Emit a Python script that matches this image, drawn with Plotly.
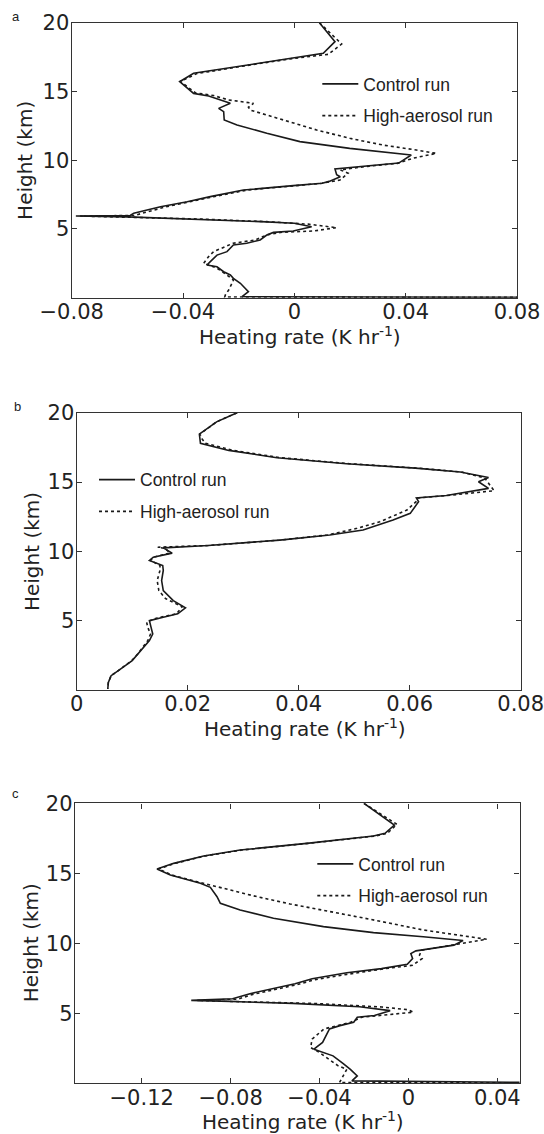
import plotly.graph_objects as go

# ---------------- data ----------------
# Panel a
a_ctrl_height = [20.0, 18.62, 17.77, 17.41, 16.97, 16.56, 16.32, 15.71, 14.86, 14.67, 14.14, 13.77,
                 13.53, 12.92, 12.56, 11.96, 11.35, 10.86, 10.62, 10.38, 9.79, 9.55, 9.36, 8.94, 8.80,
                 8.46, 8.32, 8.15, 7.83, 7.35, 6.98, 6.62, 6.14, 5.98, 5.94, 5.88, 5.72, 5.53, 5.41,
                 5.16, 4.85, 4.75, 4.56, 4.20, 3.96, 3.83, 3.35, 3.10, 2.62, 2.38, 2.25, 1.89, 1.65,
                 1.41, 1.05, 0.80, 0.44, 0.07, 0.02]
a_ctrl_rate = [0.009, 0.0146, 0.0104, -0.0015, -0.0159, -0.0278, -0.0362, -0.0412, -0.0362, -0.0308,
               -0.0230, -0.0272, -0.0254, -0.0252, -0.0206, -0.0099, 0.0020, 0.0199, 0.0319, 0.0420,
               0.0375, 0.0250, 0.0146, 0.0152, 0.0165, 0.0125, 0.0100, -0.0004, -0.0183, -0.0302,
               -0.0385, -0.0481, -0.0577, -0.0590, -0.0785, -0.0600, -0.0360, -0.0120, 0.0, 0.0062,
               -0.0004, -0.0075, -0.0099, -0.0123, -0.0171, -0.0219, -0.0242, -0.0278, -0.0302,
               -0.0314, -0.0278, -0.0254, -0.0230, -0.0219, -0.0194, -0.0183, -0.0165, -0.0188, 0.09]
a_aero_height = [20.0, 18.45, 17.70, 17.41, 16.97, 16.56, 16.30, 15.73, 14.90, 14.70, 14.38, 14.14,
                 13.85, 13.65, 12.92, 12.20, 11.59, 11.10, 10.74, 10.50, 10.14, 9.77, 9.55, 9.30, 9.05,
                 8.56, 8.32, 8.15, 7.83, 7.35, 7.00, 6.62, 6.12, 5.98, 5.94, 5.86, 5.72, 5.53, 5.35,
                 5.09, 4.85, 4.75, 4.56, 4.20, 3.96, 3.35, 2.99, 2.50, 2.38, 2.15, 1.65, 1.29, 1.05,
                 0.56, 0.20, 0.05, 0.02]
a_aero_rate = [0.009, 0.0170, 0.0122, 0.0000, -0.0145, -0.0265, -0.0350, -0.0410, -0.0355, -0.0290,
               -0.0236, -0.0147, -0.0165, -0.0159, -0.0039, 0.0080, 0.0199, 0.0319, 0.0438, 0.0510,
               0.0426, 0.0370, 0.0260, 0.0165, 0.0193, 0.0164, 0.0100, 0.0010, -0.0170, -0.0290,
               -0.0368, -0.0460, -0.0550, -0.0575, -0.0770, -0.0580, -0.0340, -0.0100, 0.0050, 0.0152,
               0.0068, -0.0050, -0.0100, -0.0140, -0.0220, -0.0290, -0.0308, -0.0326, -0.0310,
               -0.0278, -0.0242, -0.0219, -0.0224, -0.0236, -0.0248, -0.0250, 0.09]

# Panel b
b_ctrl_height = [20.0, 19.34, 18.46, 17.79, 17.28, 16.75, 16.32, 16.00, 15.72, 15.33, 15.02, 14.54,
                 14.03, 13.85, 13.58, 12.74, 12.26, 11.54, 11.18, 10.81, 10.42, 10.25, 9.87, 9.58,
                 9.34, 8.98, 8.62, 7.89, 7.17, 6.45, 5.92, 5.49, 5.25, 5.00, 4.52, 4.04, 3.56, 2.60,
                 2.12, 1.40, 1.03, 0.55, 0.07]
b_ctrl_rate = [0.0289, 0.0252, 0.0221, 0.0223, 0.0274, 0.0361, 0.0486, 0.0610, 0.0691, 0.0742, 0.0724,
               0.0742, 0.0666, 0.0612, 0.0616, 0.0601, 0.0570, 0.0516, 0.0456, 0.0366, 0.0237, 0.0156,
               0.0172, 0.0138, 0.0131, 0.0155, 0.0156, 0.0153, 0.0156, 0.0174, 0.0196, 0.0182, 0.0156,
               0.0131, 0.0134, 0.0137, 0.0131, 0.0110, 0.0100, 0.0075, 0.0062, 0.0057, 0.0056]
b_aero_height = [20.0, 19.34, 18.46, 18.10, 17.79, 17.28, 16.75, 16.32, 16.00, 15.72, 15.30, 14.80,
                 14.37, 14.03, 13.85, 13.60, 12.98, 12.13, 11.66, 11.18, 10.81, 10.42, 10.30, 10.20,
                 9.87, 9.58, 9.34, 8.98, 8.62, 7.89, 7.17, 6.60, 6.00, 5.50, 5.20, 4.90, 4.52, 4.04,
                 3.56, 2.60, 2.12, 1.40, 1.03, 0.55, 0.07]
b_aero_rate = [0.0289, 0.0252, 0.0222, 0.0226, 0.0232, 0.0282, 0.0368, 0.0492, 0.0615, 0.0694, 0.0735,
               0.0745, 0.0752, 0.0668, 0.0615, 0.0612, 0.0595, 0.0546, 0.0505, 0.0452, 0.0366, 0.0237,
               0.0146, 0.0160, 0.0168, 0.0138, 0.0133, 0.0150, 0.0150, 0.0145, 0.0148, 0.0160, 0.0190,
               0.0180, 0.0145, 0.0126, 0.0128, 0.0133, 0.0128, 0.0110, 0.0099, 0.0075, 0.0062, 0.0057,
               0.0056]

# Panel c
c_ctrl_height = [20.0, 18.45, 17.86, 17.66, 17.14, 16.66, 16.24, 15.71, 15.31, 14.88, 14.29, 14.00,
                 13.33, 12.86, 12.38, 11.79, 11.19, 10.76, 10.47, 10.20, 9.87, 9.46, 9.27, 8.91, 8.50,
                 8.19, 7.90, 7.47, 7.11, 6.75, 6.40, 6.04, 5.92, 5.84, 5.71, 5.47, 5.19, 4.84, 4.72,
                 4.36, 4.12, 3.88, 3.40, 2.92, 2.44, 2.20, 1.96, 1.41, 1.00, 0.53, 0.17, 0.02]
c_ctrl_rate = [-0.0200, -0.0063, -0.0105, -0.0157, -0.0457, -0.0757, -0.0921, -0.1056, -0.1131, -0.1071,
               -0.0936, -0.0891, -0.0861, -0.0846, -0.0757, -0.0607, -0.0382, -0.0157, 0.0067, 0.0246,
               0.0205, 0.0034, 0.0011, 0.0019, -0.0005, -0.0121, -0.0277, -0.0433, -0.0510, -0.0619,
               -0.0713, -0.0791, -0.0977, -0.0800, -0.0520, -0.0220, -0.0082, -0.0153, -0.0230, -0.0246,
               -0.0308, -0.0355, -0.0370, -0.0386, -0.0425, -0.0386, -0.0339, -0.0293, -0.0261, -0.0230,
               -0.0254, 0.09]
c_aero_height = [20.0, 18.49, 17.86, 17.66, 17.14, 16.66, 16.24, 15.71, 15.31, 14.88, 14.40, 13.93,
                 13.33, 12.81, 12.38, 11.90, 11.43, 10.95, 10.60, 10.29, 9.94, 9.50, 9.15, 8.91, 8.43,
                 8.19, 7.78, 7.40, 7.05, 6.70, 6.35, 6.00, 5.92, 5.84, 5.70, 5.45, 5.25, 5.08, 4.84,
                 4.72, 4.36, 4.12, 3.88, 3.16, 2.56, 2.20, 1.72, 1.25, 1.00, 0.53, 0.17, 0.05, 0.02]
c_aero_rate = [-0.0200, -0.0051, -0.0095, -0.0150, -0.0450, -0.0750, -0.0915, -0.1050, -0.1125, -0.1065,
               -0.0951, -0.0831, -0.0681, -0.0532, -0.0382, -0.0232, -0.0082, 0.0067, 0.0218, 0.0352,
               0.0221, 0.0060, 0.0050, 0.0062, 0.0019, -0.0105, -0.0277, -0.0420, -0.0500, -0.0600,
               -0.0700, -0.0770, -0.0950, -0.0780, -0.0420, -0.0120, 0.0000, 0.0022, -0.0121, -0.0210,
               -0.0260, -0.0320, -0.0380, -0.0433, -0.0440, -0.0400, -0.0355, -0.0316, -0.0277, -0.0293,
               -0.0308, -0.0310, 0.09]

series_names = ["Control run", "High-aerosol run"]
panel_labels = ["a", "b", "c"]
x_title = "Heating rate (K hr<sup>-1</sup>)"
y_title = "Height (km)"

a_xticks = [-0.08, -0.04, 0, 0.04, 0.08]
a_xticktext = ["\u22120.08", "\u22120.04", "0", "0.04", "0.08"]
b_xticks = [0, 0.02, 0.04, 0.06, 0.08]
b_xticktext = ["0", "0.02", "0.04", "0.06", "0.08"]
c_xticks = [-0.12, -0.08, -0.04, 0, 0.04]
c_xticktext = ["\u22120.12", "\u22120.08", "\u22120.04", "0", "0.04"]
y_ticks = [5, 10, 15, 20]
y_ticktext = ["5", "10", "15", "20"]

# ---------------- layout ----------------
W, H = 544, 1134
def fx(p):
    return p / W
def fy(p):
    return 1 - p / H

panels = [
    dict(left=71.7, right=517.0, top=22.7, bottom=297.7, xr=[-0.08, 0.08],
         xt=a_xticks, xtt=a_xticktext, leg=(323.3, 85.0), lab=(15.6, 16.7), ytoff=47,
         data=[(a_ctrl_rate, a_ctrl_height), (a_aero_rate, a_aero_height)]),
    dict(left=76.7, right=520.7, top=412.7, bottom=690.0, xr=[0, 0.08],
         xt=b_xticks, xtt=b_xticktext, leg=(100.0, 480.7), lab=(17.0, 406.7), ytoff=44,
         data=[(b_ctrl_rate, b_ctrl_height), (b_aero_rate, b_aero_height)]),
    dict(left=75.0, right=519.5, top=803.3, bottom=1083.3, xr=[-0.15, 0.05],
         xt=c_xticks, xtt=c_xticktext, leg=(318.3, 865.0), lab=(15.6, 793.0), ytoff=44,
         data=[(c_ctrl_rate, c_ctrl_height), (c_aero_rate, c_aero_height)]),
]

INK = "#222222"
AX = "#333333"
TICKFONT = dict(family="DejaVu Sans", size=21, color=INK)
TITLEFONT = dict(family="DejaVu Sans", size=20, color=INK)
LEGFONT = dict(family="Liberation Sans", size=17.5, color=INK)

fig = go.Figure()
annotations = []
layout = dict(width=W, height=H, margin=dict(l=0, r=0, t=0, b=0, pad=0, autoexpand=False),
              paper_bgcolor="white", plot_bgcolor="white", showlegend=True)

for i, p in enumerate(panels):
    n = "" if i == 0 else str(i + 1)
    xa, ya = "x" + n, "y" + n
    legname = "legend" + n
    dashes = ["solid", "dot"]
    for j, (xs, ys) in enumerate(p["data"]):
        fig.add_trace(go.Scatter(
            x=xs, y=ys, mode="lines", name=series_names[j],
            line=dict(color="#1a1a1a", width=1.6, dash=dashes[j]),
            xaxis=xa, yaxis=ya, legend=legname, legendgroup=f"p{i}s{j}",
            hoverinfo="skip"))
    common = dict(showline=True, linecolor=AX, linewidth=1.4, mirror="ticks",
                  ticks="inside", ticklen=5, tickwidth=1.2, tickcolor=AX,
                  showgrid=False, zeroline=False, tickfont=TICKFONT,
                  automargin=False, ticklabeloverflow="allow")
    layout["xaxis" + n] = dict(common, domain=[fx(p["left"]), fx(p["right"])],
                               anchor=ya, range=p["xr"], tickvals=p["xt"],
                               ticktext=p["xtt"], ticklabelstandoff=-5)
    layout["yaxis" + n] = dict(common, domain=[fy(p["bottom"]), fy(p["top"])],
                               anchor=xa, range=[0, 20], tickvals=y_ticks,
                               ticktext=y_ticktext, ticklabelstandoff=-3)
    layout[legname] = dict(x=fx(p["leg"][0] - 6), y=fy(p["leg"][1] - 19),
                           xanchor="left", yanchor="top",
                           bgcolor="rgba(0,0,0,0)", font=LEGFONT,
                           tracegroupgap=6, itemwidth=36)
    cx = (p["left"] + p["right"]) / 2
    cy = (p["top"] + p["bottom"]) / 2
    annotations.append(dict(text=x_title, x=fx(cx + 6), y=fy(p["bottom"] + 38),
                            xref="paper", yref="paper", showarrow=False,
                            xanchor="center", yanchor="middle", font=TITLEFONT))
    annotations.append(dict(text=y_title, x=fx(p["left"] - p["ytoff"]), y=fy(cy),
                            xref="paper", yref="paper", showarrow=False,
                            textangle=-90, xanchor="center", yanchor="middle",
                            font=TITLEFONT))
    annotations.append(dict(text=panel_labels[i], x=fx(p["lab"][0]), y=fy(p["lab"][1]),
                            xref="paper", yref="paper", showarrow=False,
                            xanchor="center", yanchor="middle",
                            font=dict(family="Liberation Sans", size=13, color=INK)))

layout["annotations"] = annotations
fig.update_layout(**layout)
# remove the browser's default 8px body margin so the figure sits at the page origin
fig.write_html("out.html", config={"displayModeBar": False},
               post_script="document.body.style.margin='0';")
